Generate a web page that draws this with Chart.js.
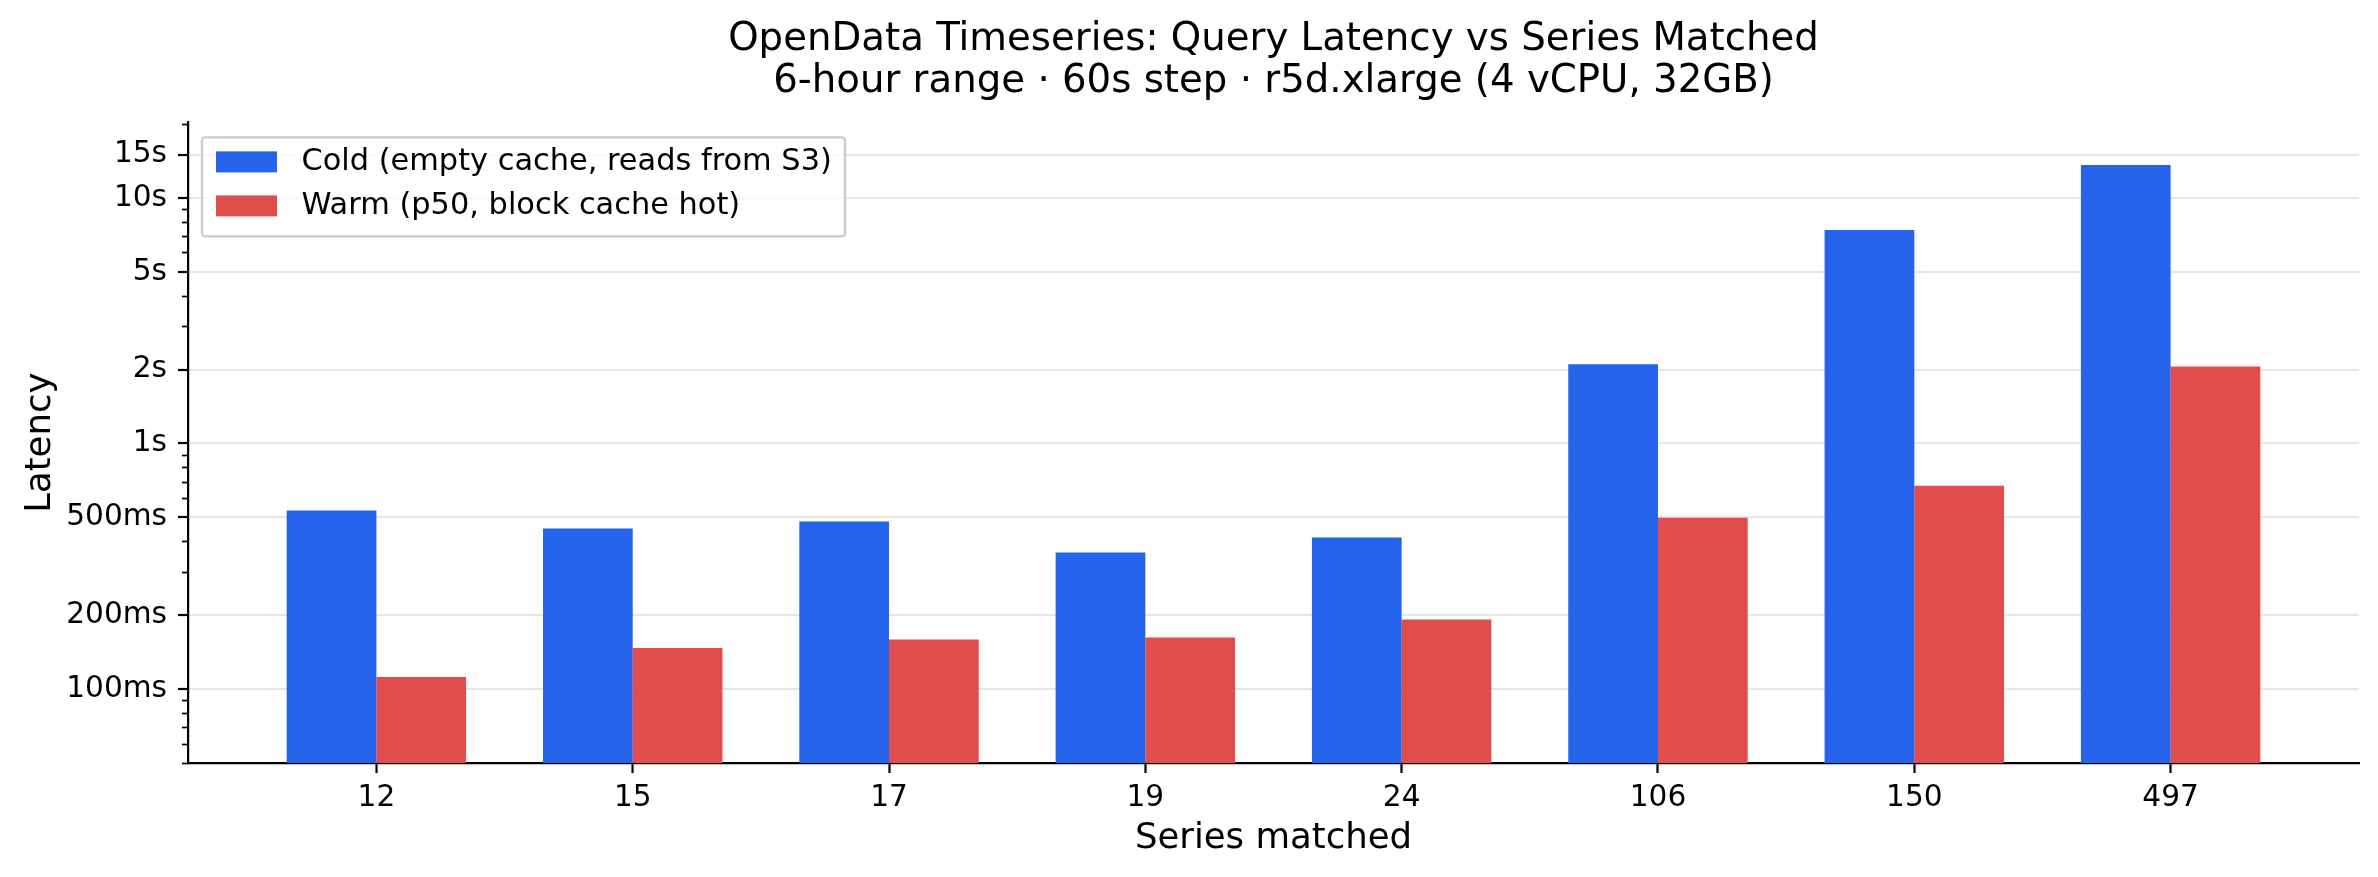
<!DOCTYPE html>
<html>
<head>
<meta charset="utf-8">
<title>Query Latency vs Series Matched</title>
<script src="https://cdn.jsdelivr.net/npm/chart.js@4.4.1/dist/chart.umd.min.js"></script>
<style>
  html, body { margin: 0; padding: 0; background: #fff; }
  canvas { display: block; }
</style>
</head>
<body>
<canvas id="latencyChart" width="2378" height="877"></canvas>
<script>
// series matched per query
const categories = ['12', '15', '17', '19', '24', '106', '150', '497'];

// latency in milliseconds
const coldLatency = [534, 451, 481, 360, 414, 2100, 7400, 13600];
const warmLatency = [112, 147, 159, 162, 192, 499, 673, 2060];

// y axis ticks (ms)
const yTicks = [100, 200, 500, 1000, 2000, 5000, 10000, 15000];
const yTickLabels = ['100ms', '200ms', '500ms', '1s', '2s', '5s', '10s', '15s'];
const yMinorTicks = [50, 60, 70, 80, 90, 300, 400, 600, 700, 800, 900,
                     3000, 4000, 6000, 7000, 8000, 9000, 20000];

const FONT = 'DejaVu Sans';

function toPoints(values) {
    return values.map((v, i) => ({ x: i, y: v }));
}

// matplotlib style legend box inside the plot, upper left
const boxLegend = {
    id: 'boxLegend',
    afterDatasetsDraw(chart) {
        const ctx = chart.ctx;
        const area = chart.chartArea;
        const x0 = area.left + 14, y0 = area.top + 15;
        const w = 643, h = 99;
        ctx.save();
        ctx.fillStyle = 'rgba(255,255,255,0.8)';
        ctx.strokeStyle = '#cccccc';
        ctx.lineWidth = 2.4;
        ctx.beginPath();
        ctx.roundRect(x0, y0, w, h, 3);
        ctx.fill();
        ctx.stroke();
        ctx.font = '30.4px "' + FONT + '"';
        ctx.textBaseline = 'middle';
        chart.data.datasets.forEach((ds, i) => {
            const rowY = y0 + 14 + i * 44;
            ctx.fillStyle = ds.backgroundColor;
            ctx.fillRect(x0 + 14, rowY, 61, 21);
            ctx.fillStyle = '#000';
            ctx.fillText(ds.label, x0 + 99.5, rowY + 11);
        });
        ctx.restore();
    }
};

// short minor ticks on the log axis
const minorTicks = {
    id: 'minorTicks',
    afterDraw(chart) {
        const y = chart.scales.y;
        const ctx = chart.ctx;
        ctx.save();
        ctx.strokeStyle = '#000';
        ctx.lineWidth = 1.7;
        yMinorTicks.forEach(v => {
            const py = Math.round(y.getPixelForValue(v)) + 0.5;
            ctx.beginPath();
            ctx.moveTo(chart.chartArea.left - 6, py);
            ctx.lineTo(chart.chartArea.left, py);
            ctx.stroke();
        });
        ctx.restore();
    }
};

function drawChart() {
    const ctx = document.getElementById('latencyChart').getContext('2d');
    const config = {
        type: 'bar',
        data: {
            datasets: [{
                label: 'Cold (empty cache, reads from S3)',
                data: toPoints(coldLatency),
                backgroundColor: '#2563eb',
                borderWidth: 0
            }, {
                label: 'Warm (p50, block cache hot)',
                data: toPoints(warmLatency),
                backgroundColor: '#e14c4c',
                borderWidth: 0
            }]
        },
        options: {
            responsive: false,
            animation: false,
            devicePixelRatio: 1,
            categoryPercentage: 0.7,
            barPercentage: 1.0,
            layout: { padding: { left: 0, right: 19, top: 0, bottom: 0 } },
            plugins: {
                legend: { display: false },
                tooltip: { enabled: false },
                title: {
                    display: true,
                    fullSize: false,
                    text: ['OpenData Timeseries: Query Latency vs Series Matched',
                           '6-hour range \u00b7 60s step \u00b7 r5d.xlarge (4 vCPU, 32GB)'],
                    color: '#000',
                    font: { family: FONT, size: 38.7, weight: 'normal', lineHeight: 1.08 },
                    padding: { top: 19.5, bottom: 19.3 }
                }
            },
            scales: {
                x: {
                    type: 'linear',
                    min: -0.735,
                    max: 7.735,
                    offset: false,
                    afterBuildTicks: scale => {
                        scale.ticks = categories.map((c, i) => ({ value: i }));
                    },
                    afterFit: scale => { scale.height = 114; },
                    ticks: {
                        autoSkip: false,
                        maxRotation: 0,
                        padding: 8,
                        color: '#000',
                        font: { family: FONT, size: 29.6 },
                        callback: value => categories[value]
                    },
                    grid: {
                        offset: false,
                        drawOnChartArea: false,
                        drawTicks: true,
                        tickLength: 10,
                        tickColor: '#000',
                        tickWidth: 2.2
                    },
                    border: { display: true, color: '#000', width: 2.2 },
                    title: {
                        display: true,
                        text: 'Series matched',
                        color: '#000',
                        font: { family: FONT, size: 35.5 },
                        padding: { top: 0, bottom: 16.7 }
                    }
                },
                y: {
                    type: 'logarithmic',
                    min: 50,
                    max: 20300,
                    afterBuildTicks: scale => {
                        scale.ticks = yTicks.map(v => ({ value: v }));
                    },
                    afterFit: scale => { scale.width = 188; },
                    ticks: {
                        padding: 11,
                        color: '#000',
                        font: { family: FONT, size: 29.6 },
                        callback: (value, index) => yTickLabels[index]
                    },
                    grid: {
                        color: '#e6e6e6',
                        lineWidth: 2,
                        drawTicks: true,
                        tickLength: 10,
                        tickColor: '#000',
                        tickWidth: 2.2
                    },
                    border: { display: true, color: '#000', width: 2.2 },
                    title: {
                        display: true,
                        text: 'Latency',
                        color: '#000',
                        font: { family: FONT, size: 35.5 },
                        padding: { top: 19.5, bottom: 0 }
                    }
                }
            }
        },
        plugins: [boxLegend, minorTicks]
    };

    const latencyChart = new Chart(ctx, config);
}

document.addEventListener('DOMContentLoaded', drawChart);
</script>
</body>
</html>
